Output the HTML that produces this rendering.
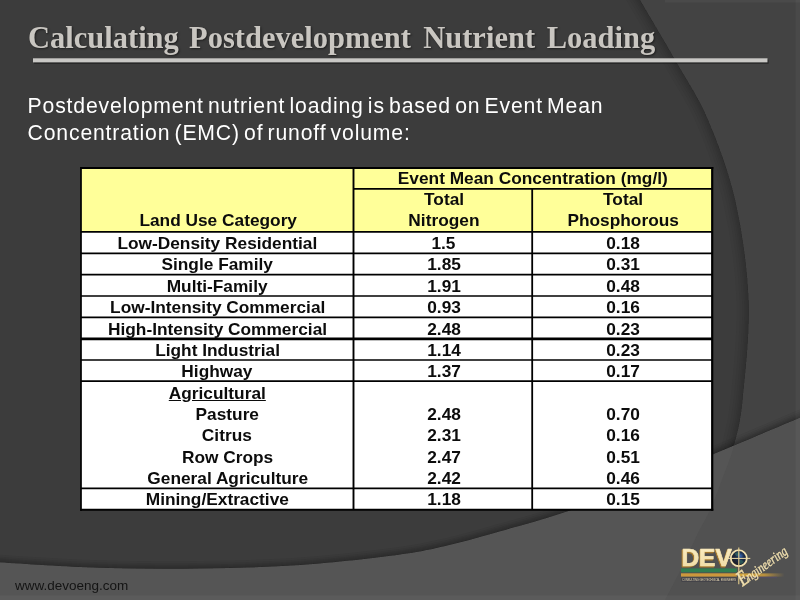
<!DOCTYPE html>
<html lang="en">
<head>
<meta charset="utf-8">
<title>Calculating Postdevelopment Nutrient Loading</title>
<style>
html,body{margin:0;padding:0;}
body{width:800px;height:600px;overflow:hidden;position:relative;background:#3c3c3c;font-family:"Liberation Sans",Arial,sans-serif;}
#bg{position:absolute;left:0;top:0;width:800px;height:600px;}
.title{position:absolute;left:28px;top:18.3px;margin:0;font-family:"Liberation Serif","Times New Roman",serif;font-weight:bold;font-size:30.5px;line-height:40px;color:#c9c6c1;white-space:nowrap;text-shadow:1px 1px 2px rgba(0,0,0,.5);}
.title span{display:inline-block;}
.bar{position:absolute;left:33px;top:58.2px;width:734.5px;height:4.2px;background:#c9c8c5;box-shadow:1px 1.5px 2px rgba(0,0,0,.6);}
.body{position:absolute;left:27.6px;top:91.5px;margin:0;font-size:21.2px;line-height:27px;color:#fff;white-space:nowrap;letter-spacing:.83px;word-spacing:-2.5px;}
.url{position:absolute;left:15px;top:578px;font-size:13.5px;line-height:16px;color:#141414;white-space:nowrap;}
.grid{position:absolute;left:0;top:0;width:800px;height:600px;font-weight:bold;font-size:16.5px;line-height:22px;color:#0c0c0c;}
.c{position:absolute;width:300px;height:22px;text-align:center;white-space:nowrap;}
.c span{display:inline-block;transform:scaleX(1.048);transform-origin:50% 50%;}
</style>
</head>
<body>
<svg id="bg" width="800" height="600" viewBox="0 0 800 600">
<defs>
<clipPath id="darkclip"><path d="M-40.0,558.5 C-33.3,559.1 -23.3,560.8 0.0,562.3 C23.3,563.8 66.7,566.8 100.0,567.8 C133.3,568.8 166.7,569.0 200.0,568.5 C233.3,568.0 266.7,567.3 300.0,565.0 C333.3,562.7 375.0,557.9 400.0,554.5 C425.0,551.1 433.3,548.7 450.0,544.8 C466.7,540.9 481.7,536.5 500.0,531.3 C518.3,526.1 536.7,521.5 560.0,513.8 C583.3,506.1 614.6,494.9 640.0,485.0 C665.4,475.1 685.8,465.8 712.5,454.5 C739.2,443.2 778.8,426.6 800.0,417.5 C821.2,408.4 833.3,402.9 840.0,400.0 L840,-40 L-40,-40 Z"/></clipPath>
<clipPath id="leftclip"><path d="M630.0,-18.0 C631.7,-15.0 632.0,-13.8 640.0,0.0 C648.0,13.8 666.7,45.0 678.0,65.0 C689.3,85.0 698.5,97.5 708.0,120.0 C717.5,142.5 728.2,170.0 735.0,200.0 C741.8,230.0 747.2,266.7 748.5,300.0 C749.8,333.3 744.9,375.8 742.5,400.0 C740.1,424.2 737.2,432.2 734.0,445.0 C730.8,457.8 727.0,466.2 723.0,477.0 C719.0,487.8 714.2,500.7 710.0,510.0 C705.8,519.3 702.7,523.5 698.0,533.0 C693.3,542.5 687.5,555.8 682.0,567.0 C676.5,578.2 669.5,591.2 665.0,600.0 C660.5,608.8 656.7,616.7 655.0,620.0 L-40,640 L-40,-40 Z"/></clipPath>
</defs>
<rect width="800" height="600" fill="#555555"/>
<!-- lighter sheet to the right of the big arc, lower region -->
<path d="M630.0,-18.0 C631.7,-15.0 632.0,-13.8 640.0,0.0 C648.0,13.8 666.7,45.0 678.0,65.0 C689.3,85.0 698.5,97.5 708.0,120.0 C717.5,142.5 728.2,170.0 735.0,200.0 C741.8,230.0 747.2,266.7 748.5,300.0 C749.8,333.3 744.9,375.8 742.5,400.0 C740.1,424.2 737.2,432.2 734.0,445.0 C730.8,457.8 727.0,466.2 723.0,477.0 C719.0,487.8 714.2,500.7 710.0,510.0 C705.8,519.3 702.7,523.5 698.0,533.0 C693.3,542.5 687.5,555.8 682.0,567.0 C676.5,578.2 669.5,591.2 665.0,600.0 C660.5,608.8 656.7,616.7 655.0,620.0 L840,640 L840,-40 Z" fill="#515151"/>
<!-- main dark panel -->
<g clip-path="url(#darkclip)">
  <rect x="-40" y="-40" width="880" height="680" fill="#3c3c3c"/>
  <path d="M630.0,-18.0 C631.7,-15.0 632.0,-13.8 640.0,0.0 C648.0,13.8 666.7,45.0 678.0,65.0 C689.3,85.0 698.5,97.5 708.0,120.0 C717.5,142.5 728.2,170.0 735.0,200.0 C741.8,230.0 747.2,266.7 748.5,300.0 C749.8,333.3 744.9,375.8 742.5,400.0 C740.1,424.2 737.2,432.2 734.0,445.0 C730.8,457.8 727.0,466.2 723.0,477.0 C719.0,487.8 714.2,500.7 710.0,510.0 C705.8,519.3 702.7,523.5 698.0,533.0 C693.3,542.5 687.5,555.8 682.0,567.0 C676.5,578.2 669.5,591.2 665.0,600.0 C660.5,608.8 656.7,616.7 655.0,620.0 L840,640 L840,-40 Z" fill="#434343"/>
  <g clip-path="url(#leftclip)" fill="none" stroke="#161616" stroke-opacity=".038"><path d="M630.0,-18.0 C631.7,-15.0 632.0,-13.8 640.0,0.0 C648.0,13.8 666.7,45.0 678.0,65.0 C689.3,85.0 698.5,97.5 708.0,120.0 C717.5,142.5 728.2,170.0 735.0,200.0 C741.8,230.0 747.2,266.7 748.5,300.0 C749.8,333.3 744.9,375.8 742.5,400.0 C740.1,424.2 737.2,432.2 734.0,445.0 C730.8,457.8 727.0,466.2 723.0,477.0 C719.0,487.8 714.2,500.7 710.0,510.0 C705.8,519.3 702.7,523.5 698.0,533.0 C693.3,542.5 687.5,555.8 682.0,567.0 C676.5,578.2 669.5,591.2 665.0,600.0 C660.5,608.8 656.7,616.7 655.0,620.0" stroke-width="2"/><path d="M630.0,-18.0 C631.7,-15.0 632.0,-13.8 640.0,0.0 C648.0,13.8 666.7,45.0 678.0,65.0 C689.3,85.0 698.5,97.5 708.0,120.0 C717.5,142.5 728.2,170.0 735.0,200.0 C741.8,230.0 747.2,266.7 748.5,300.0 C749.8,333.3 744.9,375.8 742.5,400.0 C740.1,424.2 737.2,432.2 734.0,445.0 C730.8,457.8 727.0,466.2 723.0,477.0 C719.0,487.8 714.2,500.7 710.0,510.0 C705.8,519.3 702.7,523.5 698.0,533.0 C693.3,542.5 687.5,555.8 682.0,567.0 C676.5,578.2 669.5,591.2 665.0,600.0 C660.5,608.8 656.7,616.7 655.0,620.0" stroke-width="4"/><path d="M630.0,-18.0 C631.7,-15.0 632.0,-13.8 640.0,0.0 C648.0,13.8 666.7,45.0 678.0,65.0 C689.3,85.0 698.5,97.5 708.0,120.0 C717.5,142.5 728.2,170.0 735.0,200.0 C741.8,230.0 747.2,266.7 748.5,300.0 C749.8,333.3 744.9,375.8 742.5,400.0 C740.1,424.2 737.2,432.2 734.0,445.0 C730.8,457.8 727.0,466.2 723.0,477.0 C719.0,487.8 714.2,500.7 710.0,510.0 C705.8,519.3 702.7,523.5 698.0,533.0 C693.3,542.5 687.5,555.8 682.0,567.0 C676.5,578.2 669.5,591.2 665.0,600.0 C660.5,608.8 656.7,616.7 655.0,620.0" stroke-width="6"/><path d="M630.0,-18.0 C631.7,-15.0 632.0,-13.8 640.0,0.0 C648.0,13.8 666.7,45.0 678.0,65.0 C689.3,85.0 698.5,97.5 708.0,120.0 C717.5,142.5 728.2,170.0 735.0,200.0 C741.8,230.0 747.2,266.7 748.5,300.0 C749.8,333.3 744.9,375.8 742.5,400.0 C740.1,424.2 737.2,432.2 734.0,445.0 C730.8,457.8 727.0,466.2 723.0,477.0 C719.0,487.8 714.2,500.7 710.0,510.0 C705.8,519.3 702.7,523.5 698.0,533.0 C693.3,542.5 687.5,555.8 682.0,567.0 C676.5,578.2 669.5,591.2 665.0,600.0 C660.5,608.8 656.7,616.7 655.0,620.0" stroke-width="9"/><path d="M630.0,-18.0 C631.7,-15.0 632.0,-13.8 640.0,0.0 C648.0,13.8 666.7,45.0 678.0,65.0 C689.3,85.0 698.5,97.5 708.0,120.0 C717.5,142.5 728.2,170.0 735.0,200.0 C741.8,230.0 747.2,266.7 748.5,300.0 C749.8,333.3 744.9,375.8 742.5,400.0 C740.1,424.2 737.2,432.2 734.0,445.0 C730.8,457.8 727.0,466.2 723.0,477.0 C719.0,487.8 714.2,500.7 710.0,510.0 C705.8,519.3 702.7,523.5 698.0,533.0 C693.3,542.5 687.5,555.8 682.0,567.0 C676.5,578.2 669.5,591.2 665.0,600.0 C660.5,608.8 656.7,616.7 655.0,620.0" stroke-width="13"/><path d="M630.0,-18.0 C631.7,-15.0 632.0,-13.8 640.0,0.0 C648.0,13.8 666.7,45.0 678.0,65.0 C689.3,85.0 698.5,97.5 708.0,120.0 C717.5,142.5 728.2,170.0 735.0,200.0 C741.8,230.0 747.2,266.7 748.5,300.0 C749.8,333.3 744.9,375.8 742.5,400.0 C740.1,424.2 737.2,432.2 734.0,445.0 C730.8,457.8 727.0,466.2 723.0,477.0 C719.0,487.8 714.2,500.7 710.0,510.0 C705.8,519.3 702.7,523.5 698.0,533.0 C693.3,542.5 687.5,555.8 682.0,567.0 C676.5,578.2 669.5,591.2 665.0,600.0 C660.5,608.8 656.7,616.7 655.0,620.0" stroke-width="18"/><path d="M630.0,-18.0 C631.7,-15.0 632.0,-13.8 640.0,0.0 C648.0,13.8 666.7,45.0 678.0,65.0 C689.3,85.0 698.5,97.5 708.0,120.0 C717.5,142.5 728.2,170.0 735.0,200.0 C741.8,230.0 747.2,266.7 748.5,300.0 C749.8,333.3 744.9,375.8 742.5,400.0 C740.1,424.2 737.2,432.2 734.0,445.0 C730.8,457.8 727.0,466.2 723.0,477.0 C719.0,487.8 714.2,500.7 710.0,510.0 C705.8,519.3 702.7,523.5 698.0,533.0 C693.3,542.5 687.5,555.8 682.0,567.0 C676.5,578.2 669.5,591.2 665.0,600.0 C660.5,608.8 656.7,616.7 655.0,620.0" stroke-width="24"/></g>
  <g fill="none" stroke="#141414" stroke-opacity=".06"><path d="M-40.0,558.5 C-33.3,559.1 -23.3,560.8 0.0,562.3 C23.3,563.8 66.7,566.8 100.0,567.8 C133.3,568.8 166.7,569.0 200.0,568.5 C233.3,568.0 266.7,567.3 300.0,565.0 C333.3,562.7 375.0,557.9 400.0,554.5 C425.0,551.1 433.3,548.7 450.0,544.8 C466.7,540.9 481.7,536.5 500.0,531.3 C518.3,526.1 536.7,521.5 560.0,513.8 C583.3,506.1 614.6,494.9 640.0,485.0 C665.4,475.1 685.8,465.8 712.5,454.5 C739.2,443.2 778.8,426.6 800.0,417.5 C821.2,408.4 833.3,402.9 840.0,400.0" stroke-width="2"/><path d="M-40.0,558.5 C-33.3,559.1 -23.3,560.8 0.0,562.3 C23.3,563.8 66.7,566.8 100.0,567.8 C133.3,568.8 166.7,569.0 200.0,568.5 C233.3,568.0 266.7,567.3 300.0,565.0 C333.3,562.7 375.0,557.9 400.0,554.5 C425.0,551.1 433.3,548.7 450.0,544.8 C466.7,540.9 481.7,536.5 500.0,531.3 C518.3,526.1 536.7,521.5 560.0,513.8 C583.3,506.1 614.6,494.9 640.0,485.0 C665.4,475.1 685.8,465.8 712.5,454.5 C739.2,443.2 778.8,426.6 800.0,417.5 C821.2,408.4 833.3,402.9 840.0,400.0" stroke-width="4"/><path d="M-40.0,558.5 C-33.3,559.1 -23.3,560.8 0.0,562.3 C23.3,563.8 66.7,566.8 100.0,567.8 C133.3,568.8 166.7,569.0 200.0,568.5 C233.3,568.0 266.7,567.3 300.0,565.0 C333.3,562.7 375.0,557.9 400.0,554.5 C425.0,551.1 433.3,548.7 450.0,544.8 C466.7,540.9 481.7,536.5 500.0,531.3 C518.3,526.1 536.7,521.5 560.0,513.8 C583.3,506.1 614.6,494.9 640.0,485.0 C665.4,475.1 685.8,465.8 712.5,454.5 C739.2,443.2 778.8,426.6 800.0,417.5 C821.2,408.4 833.3,402.9 840.0,400.0" stroke-width="6"/><path d="M-40.0,558.5 C-33.3,559.1 -23.3,560.8 0.0,562.3 C23.3,563.8 66.7,566.8 100.0,567.8 C133.3,568.8 166.7,569.0 200.0,568.5 C233.3,568.0 266.7,567.3 300.0,565.0 C333.3,562.7 375.0,557.9 400.0,554.5 C425.0,551.1 433.3,548.7 450.0,544.8 C466.7,540.9 481.7,536.5 500.0,531.3 C518.3,526.1 536.7,521.5 560.0,513.8 C583.3,506.1 614.6,494.9 640.0,485.0 C665.4,475.1 685.8,465.8 712.5,454.5 C739.2,443.2 778.8,426.6 800.0,417.5 C821.2,408.4 833.3,402.9 840.0,400.0" stroke-width="8"/><path d="M-40.0,558.5 C-33.3,559.1 -23.3,560.8 0.0,562.3 C23.3,563.8 66.7,566.8 100.0,567.8 C133.3,568.8 166.7,569.0 200.0,568.5 C233.3,568.0 266.7,567.3 300.0,565.0 C333.3,562.7 375.0,557.9 400.0,554.5 C425.0,551.1 433.3,548.7 450.0,544.8 C466.7,540.9 481.7,536.5 500.0,531.3 C518.3,526.1 536.7,521.5 560.0,513.8 C583.3,506.1 614.6,494.9 640.0,485.0 C665.4,475.1 685.8,465.8 712.5,454.5 C739.2,443.2 778.8,426.6 800.0,417.5 C821.2,408.4 833.3,402.9 840.0,400.0" stroke-width="11"/><path d="M-40.0,558.5 C-33.3,559.1 -23.3,560.8 0.0,562.3 C23.3,563.8 66.7,566.8 100.0,567.8 C133.3,568.8 166.7,569.0 200.0,568.5 C233.3,568.0 266.7,567.3 300.0,565.0 C333.3,562.7 375.0,557.9 400.0,554.5 C425.0,551.1 433.3,548.7 450.0,544.8 C466.7,540.9 481.7,536.5 500.0,531.3 C518.3,526.1 536.7,521.5 560.0,513.8 C583.3,506.1 614.6,494.9 640.0,485.0 C665.4,475.1 685.8,465.8 712.5,454.5 C739.2,443.2 778.8,426.6 800.0,417.5 C821.2,408.4 833.3,402.9 840.0,400.0" stroke-width="15"/></g>
</g>
<rect x="0" y="595.5" width="800" height="5" fill="#fff" opacity=".04"/>
<rect x="795.5" y="0" width="5" height="600" fill="#fff" opacity=".035"/>
<rect x="665" y="0" width="135" height="2.5" fill="#fff" opacity=".04"/>
<rect x="34.2" y="59.8" width="734.5" height="4.1" fill="#000" opacity=".28"/><rect x="33.7" y="59.2" width="734.5" height="4.1" fill="#000" opacity=".3"/><rect x="33" y="58.3" width="734.5" height="4.1" fill="#c9c8c5"/>
<!-- table -->
<rect x="81.0" y="168.0" width="631.2" height="341.8" fill="#ffffff"/>
<rect x="81.0" y="168.0" width="631.2" height="63.599999999999994" fill="#ffff99"/>
<g stroke="#000" fill="none"><line x1="353.5" y1="188.9" x2="712.2" y2="188.9" stroke-width="1.7"/><line x1="81.0" y1="231.9" x2="712.2" y2="231.9" stroke-width="1.7"/><line x1="81.0" y1="253.3" x2="712.2" y2="253.3" stroke-width="1.7"/><line x1="81.0" y1="274.7" x2="712.2" y2="274.7" stroke-width="1.7"/><line x1="81.0" y1="296.0" x2="712.2" y2="296.0" stroke-width="1.7"/><line x1="81.0" y1="317.3" x2="712.2" y2="317.3" stroke-width="1.7"/><line x1="81.0" y1="338.8" x2="712.2" y2="338.8" stroke-width="2.7"/><line x1="81.0" y1="360.0" x2="712.2" y2="360.0" stroke-width="1.7"/><line x1="81.0" y1="381.1" x2="712.2" y2="381.1" stroke-width="1.7"/><line x1="81.0" y1="488.3" x2="712.2" y2="488.3" stroke-width="1.7"/><line x1="353.5" y1="168.0" x2="353.5" y2="509.8" stroke-width="1.9"/><line x1="532.2" y1="188.7" x2="532.2" y2="509.8" stroke-width="1.8"/>
<path d="M81.0,167.0 V510.8" stroke-width="1.7"/><path d="M80.15,168.0 H713.3000000000001" stroke-width="2"/><path d="M712.2,167.0 V510.8" stroke-width="2.2"/><path d="M80.15,509.8 H713.3000000000001" stroke-width="2.1"/>
</g>
</svg>
<h1 class="title"><span>Calculating</span> <span style="margin-left:2.6px">Postdevelopment</span> <span style="margin-left:4.6px">Nutrient</span> <span style="margin-left:4px">Loading</span></h1>
<p class="body">Postdevelopment nutrient loading is based on Event Mean<br>Concentration (EMC) of runoff volume:</p>
<div class="grid">
<div class="c " style="left:383.20000000000005px;top:167.0px"><span>Event Mean Concentration (mg/l)</span></div>
<div class="c " style="left:293.8px;top:187.7px"><span>Total</span></div>
<div class="c " style="left:472.79999999999995px;top:187.7px"><span>Total</span></div>
<div class="c " style="left:68.0px;top:209.2px"><span>Land Use Category</span></div>
<div class="c " style="left:293.8px;top:209.1px"><span>Nitrogen</span></div>
<div class="c " style="left:472.79999999999995px;top:209.1px"><span>Phosphorous</span></div>
<div class="c " style="left:67.30000000000001px;top:231.9px"><span>Low-Density Residential</span></div>
<div class="c " style="left:293.8px;top:231.9px"><span>1.5</span></div>
<div class="c " style="left:472.79999999999995px;top:231.9px"><span>0.18</span></div>
<div class="c " style="left:67.30000000000001px;top:253.4px"><span>Single Family</span></div>
<div class="c " style="left:293.8px;top:253.4px"><span>1.85</span></div>
<div class="c " style="left:472.79999999999995px;top:253.4px"><span>0.31</span></div>
<div class="c " style="left:67.30000000000001px;top:274.9px"><span>Multi-Family</span></div>
<div class="c " style="left:293.8px;top:274.9px"><span>1.91</span></div>
<div class="c " style="left:472.79999999999995px;top:274.9px"><span>0.48</span></div>
<div class="c " style="left:67.30000000000001px;top:296.2px"><span>Low-Intensity Commercial</span></div>
<div class="c " style="left:293.8px;top:296.2px"><span>0.93</span></div>
<div class="c " style="left:472.79999999999995px;top:296.2px"><span>0.16</span></div>
<div class="c " style="left:67.30000000000001px;top:317.5px"><span>High-Intensity Commercial</span></div>
<div class="c " style="left:293.8px;top:317.5px"><span>2.48</span></div>
<div class="c " style="left:472.79999999999995px;top:317.5px"><span>0.23</span></div>
<div class="c " style="left:67.30000000000001px;top:338.9px"><span>Light Industrial</span></div>
<div class="c " style="left:293.8px;top:338.9px"><span>1.14</span></div>
<div class="c " style="left:472.79999999999995px;top:338.9px"><span>0.23</span></div>
<div class="c " style="left:67.30000000000001px;top:360.2px"><span>Highway</span></div>
<div class="c " style="left:293.8px;top:360.2px"><span>1.37</span></div>
<div class="c " style="left:472.79999999999995px;top:360.2px"><span>0.17</span></div>
<div class="c " style="left:67.30000000000001px;top:381.5px"><span><u>Agricultural</u></span></div>
<div class="c " style="left:77.30000000000001px;top:402.7px"><span>Pasture</span></div>
<div class="c " style="left:293.8px;top:402.7px"><span>2.48</span></div>
<div class="c " style="left:472.79999999999995px;top:402.7px"><span>0.70</span></div>
<div class="c " style="left:77.30000000000001px;top:424.1px"><span>Citrus</span></div>
<div class="c " style="left:293.8px;top:424.1px"><span>2.31</span></div>
<div class="c " style="left:472.79999999999995px;top:424.1px"><span>0.16</span></div>
<div class="c " style="left:77.30000000000001px;top:445.5px"><span>Row Crops</span></div>
<div class="c " style="left:293.8px;top:445.5px"><span>2.47</span></div>
<div class="c " style="left:472.79999999999995px;top:445.5px"><span>0.51</span></div>
<div class="c " style="left:77.30000000000001px;top:466.7px"><span>General Agriculture</span></div>
<div class="c " style="left:293.8px;top:466.7px"><span>2.42</span></div>
<div class="c " style="left:472.79999999999995px;top:466.7px"><span>0.46</span></div>
<div class="c " style="left:67.30000000000001px;top:488.1px"><span>Mining/Extractive</span></div>
<div class="c " style="left:293.8px;top:488.1px"><span>1.18</span></div>
<div class="c " style="left:472.79999999999995px;top:488.1px"><span>0.15</span></div>
</div>
<div class="url">www.devoeng.com</div>
<svg id="logo" width="130" height="66" viewBox="670 534 130 66" style="position:absolute;left:670px;top:534px;overflow:visible">
<defs>
<linearGradient id="streak" x1="0" y1="0" x2="1" y2="0"><stop offset="0" stop-color="#d8a83c"/><stop offset=".55" stop-color="#c99a3a" stop-opacity=".85"/><stop offset="1" stop-color="#c99a3a" stop-opacity="0"/></linearGradient>
<linearGradient id="cream" x1="0" y1="0" x2="0" y2="1"><stop offset="0" stop-color="#fbeec4"/><stop offset="1" stop-color="#efd9a0"/></linearGradient>
<radialGradient id="globe" cx=".6" cy=".35" r=".7"><stop offset="0" stop-color="#3a68b0"/><stop offset=".35" stop-color="#1c2b48"/><stop offset="1" stop-color="#1a1b1e"/></radialGradient>
</defs>
<!-- bars -->
<rect x="681" y="568.4" width="55.8" height="3.9" fill="#2f7d50"/>
<rect x="681" y="573.3" width="55.8" height="3.3" fill="#cc983c"/>
<rect x="681.5" y="577.6" width="55" height="4" fill="#2a2a3a" opacity=".55"/>
<rect x="739.5" y="573.4" width="45" height="3.2" fill="url(#streak)"/>
<rect x="741" y="576.6" width="36" height="1.6" fill="#5a4a80" opacity=".35"/>
<!-- wordmark -->
<text x="680.6" y="566.9" font-family="'Liberation Sans',Arial,sans-serif" font-weight="bold" font-size="23.6" textLength="50.4" lengthAdjust="spacingAndGlyphs" fill="#a87a2c" stroke="#a87a2c" stroke-width=".9" stroke-linejoin="round">DEV</text>
<text x="681.4" y="566.1" font-family="'Liberation Sans',Arial,sans-serif" font-weight="bold" font-size="23.6" textLength="50.4" lengthAdjust="spacingAndGlyphs" fill="url(#cream)" stroke="#f3e3b2" stroke-width=".7" stroke-linejoin="round">DEV</text>
<!-- globe O -->
<circle cx="738.8" cy="558.2" r="7.6" fill="url(#globe)"/>
<path d="M734.5,553.5 q3,-2 6,-0.5 q-1,3 -4,3.5 z M739.5,559.5 q3,0 4.5,2.5 q-2,2.5 -4.5,2 z" fill="#3f8f7a" opacity=".45"/>
<circle cx="738.8" cy="558.2" r="8" fill="none" stroke="#f3e2b0" stroke-width="1.8"/>
<line x1="727.5" y1="558.4" x2="750.3" y2="558.4" stroke="#f0deaa" stroke-width="1"/>
<line x1="738.8" y1="547.6" x2="738.8" y2="584.3" stroke="#e6cf8e" stroke-width="1.1"/>
<!-- tag line -->
<text x="682" y="581.3" font-family="'Liberation Sans',Arial,sans-serif" font-size="4.3" textLength="54" lengthAdjust="spacingAndGlyphs" fill="#efe0b8">CONSULTING GEOTECHNICAL ENGINEERS</text>
<!-- script -->
<g transform="translate(742.8,586.4) rotate(-36)" font-family="'Liberation Serif','Times New Roman',serif" font-style="italic" fill="#f5e8c0" stroke="#e8d49c" stroke-width=".35">
<text transform="scale(.72,1)" x="0" y="0" font-size="21.5" stroke-width=".7">E</text>
<text transform="translate(8.2,0) scale(.8,1)" x="0" y="0" font-size="14">ngineering</text>
</g>
</svg>

</body>
</html>
